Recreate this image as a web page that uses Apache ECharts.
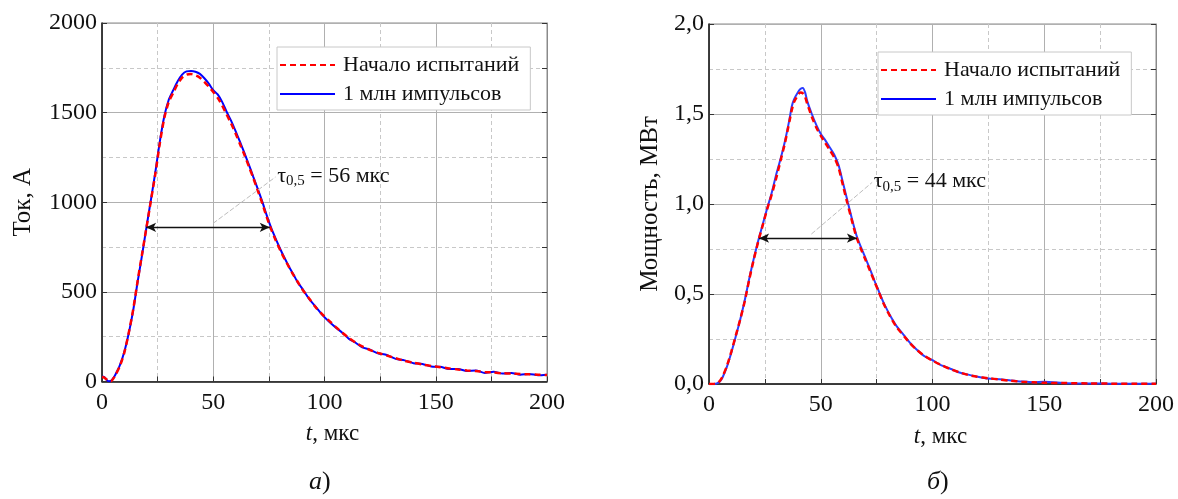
<!DOCTYPE html>
<html>
<head>
<meta charset="utf-8">
<script src="https://cdn.jsdelivr.net/npm/echarts@6/dist/echarts.min.js"></script>
<style>
html,body{margin:0;padding:0;background:#fff;}
#chart{width:1178px;height:499px;}
</style>
</head>
<body>
<div id="chart"></div>
<script>
// ---- Data (а) Ток ----
var tA = [0,1,2,3,4,5,6,8,10,12,14,16,18,20,22,24,26,28,30,32,34,36,38,40,42,44,46,48,50,52,54,56,58,60,62,64,66,68,70,72,74,76,78,80,82,84,86,88,90,93,96,99,102,105,108,111,114,117,120,124,128,132,136,140,144,148,152,156,160,164,168,172,176,180,184,188,192,196,200];
var currentStart = [25,22,12,3,2,15,35,85,160,270,400,560,710,860,1010,1160,1330,1470,1560,1610,1660,1695,1712,1715,1708,1695,1672,1645,1615,1582,1540,1490,1440,1385,1325,1265,1200,1135,1065,995,918,850,790,735,685,640,595,555,515,465,415,375,340,305,272,243,217,196,178,160,145,130,115,105,95,87,80,73,67,62,58,53,50,46,44,42,40,38,36];
var currentMln = [28,25,10,2,3,18,38,90,165,268,395,555,705,862,1015,1170,1340,1480,1572,1625,1675,1712,1730,1732,1728,1716,1692,1662,1625,1602,1560,1505,1455,1398,1338,1275,1210,1142,1075,1005,928,858,798,742,690,642,598,552,518,462,418,372,335,302,272,238,216,190,180,158,148,126,118,102,98,84,82,70,70,58,62,48,55,44,48,38,42,35,38];

// ---- Data (б) Мощность ----
var tB = [0,2,3,4,5,6,8,10,12,14,16,18,20,22,24,26,28,30,32,34,36,37,38,40,41,42,43,44,46,48,50,52,54,56,58,60,62,64,66,68,70,72,74,76,78,80,82,84,86,88,90,93,96,100,104,108,112,116,120,125,130,135,140,145,150,160,170,180,190,200];
var powerStart = [0,0,0.002,0.008,0.02,0.04,0.1,0.18,0.27,0.36,0.46,0.58,0.69,0.79,0.88,0.97,1.05,1.14,1.24,1.34,1.46,1.52,1.565,1.61,1.62,1.615,1.595,1.555,1.485,1.425,1.38,1.34,1.30,1.26,1.20,1.10,1.00,0.905,0.815,0.75,0.69,0.63,0.57,0.51,0.45,0.40,0.355,0.315,0.285,0.255,0.225,0.19,0.16,0.13,0.105,0.083,0.065,0.05,0.04,0.032,0.025,0.018,0.013,0.01,0.007,0.005,0.003,0.002,0.001,0.001];
var powerMln = [0,0,0.001,0.006,0.016,0.035,0.095,0.175,0.265,0.36,0.465,0.585,0.695,0.795,0.885,0.975,1.06,1.16,1.25,1.35,1.47,1.54,1.58,1.625,1.64,1.645,1.62,1.57,1.50,1.44,1.39,1.355,1.315,1.275,1.215,1.115,1.015,0.915,0.825,0.76,0.70,0.64,0.575,0.515,0.455,0.405,0.36,0.32,0.29,0.258,0.228,0.19,0.158,0.132,0.103,0.085,0.064,0.052,0.041,0.03,0.027,0.02,0.014,0.01,0.012,0.004,0.003,0.002,0.002,0.001];

// ---- Tick labels / texts ----
var xTicks = ['0','50','100','150','200'];
var yTicksA = ['0','500','1000','1500','2000'];
var yTicksB = ['0,0','0,5','1,0','1,5','2,0'];
var seriesNames = ['Начало испытаний','1 млн импульсов'];
// half-width annotations: [x1, x2, level], pointer line [x1,y1,x2,y2]
var tauA = [19.8, 75.4, 860];
var tauAPointer = [49.9, 882, 78, 1141];
var tauALabel = '56 мкс';
var tauB = [22.4, 66.2, 0.81];
var tauBPointer = [45.8, 0.833, 73, 1.12];
var tauBLabel = '44 мкс';

function pairs(t, v){ return t.map(function(x,i){ return [x, v[i]]; }); }

var FONT = 'Liberation Serif';
var RED = '#ff0000';
var BLUE = '#0000ff';
var TICK_FS = 24;

function xAxisCfg(gi){
  return {
    gridIndex: gi, type:'value', min:0, max:200, interval:50,
    name:'{i|t}, мкс', nameLocation:'middle', nameGap:41,
    nameTextStyle:{fontFamily:FONT, fontSize:23, color:'#111', padding:[0,0,0,16],
      rich:{i:{fontFamily:FONT, fontStyle:'italic', fontSize:23, color:'#111'}}},
    axisLine:{show:true, lineStyle:{color:'#111', width:1.5}},
    axisTick:{show:true, inside:true, length:5, lineStyle:{color:'#333'}},
    minorTick:{show:true, splitNumber:2, length:5, lineStyle:{color:'#333'}},
    axisLabel:{fontFamily:FONT, fontSize:TICK_FS, color:'#111', margin:9,
      formatter:function(v){ return xTicks[Math.round(v/50)]; }},
    splitLine:{show:true, lineStyle:{color:'#b0b0b0', width:1}},
    minorSplitLine:{show:true, lineStyle:{color:'#c8c8c8', width:1, type:[4,3]}}
  };
}
function yAxisCfg(gi, max, interval, labels, name, gap){
  return {
    gridIndex: gi, type:'value', min:0, max:max, interval:interval,
    name:name, nameLocation:'middle', nameGap:gap, nameRotate:90,
    nameTextStyle:{fontFamily:FONT, fontSize:25, color:'#111'},
    axisLine:{show:true, lineStyle:{color:'#111', width:1.5}},
    axisTick:{show:true, inside:true, length:5, lineStyle:{color:'#333'}},
    axisLabel:{fontFamily:FONT, fontSize:TICK_FS, color:'#111', margin:5,
      formatter:function(v){ return labels[Math.round(v/interval)]; }},
    splitLine:{show:true, lineStyle:{color:'#b0b0b0', width:1}},
    minorSplitLine:{show:true, lineStyle:{color:'#c8c8c8', width:1, type:[4,3]}},
    minorTick:{show:false, splitNumber:2}
  };
}
function yRightCfg(gi, max, interval){
  return {
    gridIndex: gi, type:'value', min:0, max:max, interval:interval, position:'right',
    axisLine:{show:true, lineStyle:{color:'#8a8a8a', width:1}},
    axisTick:{show:true, inside:true, length:5, lineStyle:{color:'#333'}},
    minorTick:{show:true, splitNumber:2, length:5, lineStyle:{color:'#333'}},
    axisLabel:{show:false}, splitLine:{show:false}
  };
}

var tauRich = {
  t:{fontFamily:FONT, fontSize:22, color:'#111'},
  s:{fontFamily:FONT, fontSize:15, color:'#111', padding:[11,0,0,0]},
  n:{fontFamily:FONT, fontSize:22, color:'#111'}
};

function annot(tau, ptr, lbl){
  return {
    silent:true, symbol:['arrow','arrow'], symbolSize:[7,10], animation:false,
    label:{show:false},
    data:[
      [{coord:[tau[0], tau[2]], lineStyle:{color:'#111', width:1.4, type:'solid'}, symbol:'arrow'},
       {coord:[tau[1], tau[2]], symbol:'arrow'}],
      [{coord:[ptr[0], ptr[1]], symbol:'none', lineStyle:{color:'#bdbdbd', width:1, type:[5,2]},
        label:{show:true, position:'end', distance:2, formatter:'{t|τ}{s|0,5}{n| = ' + lbl + '}', rich:tauRich, align:'left'}},
       {coord:[ptr[2], ptr[3]], symbol:'none'}]
    ]
  };
}

function legendCfg(left, top){
  return {
    left:left, top:top, orient:'vertical', data:seriesNames,
    backgroundColor:'#fff', borderColor:'#c8c8c8', borderWidth:1,
    padding:[7,11,5,2], itemGap:7, itemWidth:55, itemHeight:14,
    itemStyle:{opacity:0, color:'transparent', borderWidth:0},
    textStyle:{fontFamily:FONT, fontSize:22, color:'#111', padding:[0,0,0,3]},
    selectedMode:false
  };
}

var option = {
  animation:false,
  backgroundColor:'#fff',
  grid:[
    {left:102, right:631, top:23, bottom:117.5, show:true, borderColor:'#8a8a8a', borderWidth:1, backgroundColor:'transparent'},
    {left:709, right:22, top:24, bottom:115, show:true, borderColor:'#8a8a8a', borderWidth:1, backgroundColor:'transparent'}
  ],
  title:[
    {text:'{i|а})', left:304, top:464, textStyle:{fontFamily:FONT, fontSize:26, fontWeight:'normal', color:'#111', rich:{i:{fontFamily:FONT, fontStyle:'italic', fontSize:26, color:'#111'}}}},
    {text:'{i|б})', left:922, top:464, textStyle:{fontFamily:FONT, fontSize:26, fontWeight:'normal', color:'#111', rich:{i:{fontFamily:FONT, fontStyle:'italic', fontSize:26, color:'#111'}}}}
  ],
  legend:[ legendCfg(277, 47), legendCfg(878, 52) ],
  xAxis:[ xAxisCfg(0), xAxisCfg(1) ],
  yAxis:[
    yAxisCfg(0, 2000, 500, yTicksA, 'Ток, А', 66),
    yAxisCfg(1, 2.0, 0.5, yTicksB, 'Мощность, МВт', 46),
    yRightCfg(0, 2000, 500),
    yRightCfg(1, 2.0, 0.5)
  ],
  series:[
    {name:seriesNames[1], type:'line', xAxisIndex:0, yAxisIndex:0, data:pairs(tA, currentMln),
     showSymbol:false, symbol:'none', smooth:0.25, lineStyle:{color:BLUE, width:2}, itemStyle:{color:BLUE}, z:3},
    {name:seriesNames[0], type:'line', xAxisIndex:0, yAxisIndex:0, data:pairs(tA, currentStart),
     showSymbol:false, symbol:'none', smooth:0.25, lineStyle:{color:RED, width:2.5, type:[6,4]}, itemStyle:{color:RED}, z:4,
     markLine: annot(tauA, tauAPointer, tauALabel)},
    {name:seriesNames[1], type:'line', xAxisIndex:1, yAxisIndex:1, data:pairs(tB, powerMln),
     showSymbol:false, symbol:'none', smooth:0.25, lineStyle:{color:'#2b3cff', width:2}, itemStyle:{color:'#2b3cff'}, z:3},
    {name:seriesNames[0], type:'line', xAxisIndex:1, yAxisIndex:1, data:pairs(tB, powerStart),
     showSymbol:false, symbol:'none', smooth:0.25, lineStyle:{color:RED, width:2.5, type:[6,4]}, itemStyle:{color:RED}, z:4,
     markLine: annot(tauB, tauBPointer, tauBLabel)}
  ]
};

var chart = echarts.init(document.getElementById('chart'), null, {renderer:'canvas'});
chart.setOption(option);
</script>
</body>
</html>
